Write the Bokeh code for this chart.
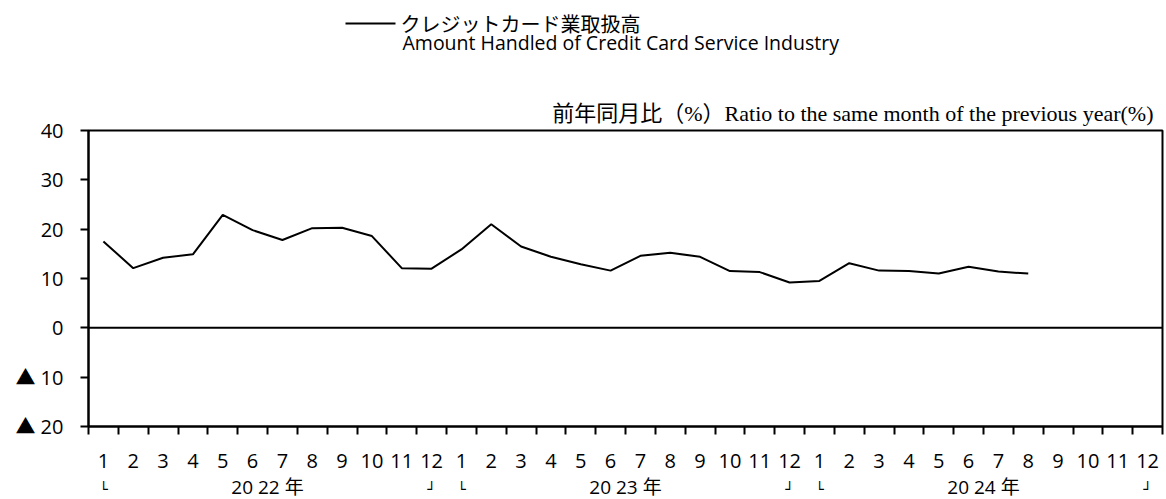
from bokeh.plotting import figure
from bokeh.models import FixedTicker, Span, Range1d, Title
from bokeh.layouts import column
from bokeh.core.properties import value
from bokeh.embed import file_html
from bokeh.resources import INLINE

month_labels = [str(m) for m in range(1, 13)] * 3
year_labels = ["20 22 年", "20 23 年", "20 24 年"]
values = [17.5, 12.1, 14.2, 14.9, 22.9, 19.8, 17.8, 20.2, 20.3, 18.6, 12.1, 12.0,
          15.9, 21.0, 16.5, 14.4, 12.9, 11.6, 14.6, 15.2, 14.4, 11.5, 11.3, 9.2,
          9.5, 13.1, 11.6, 11.5, 11.0, 12.4, 11.4, 11.0]
y_ticks = [-20, -10, 0, 10, 20, 30, 40]
y_tick_labels = ["▲ 20", "▲ 10", "0", "10", "20", "30", "40"]
series_ja = "クレジットカード業取扱高"
series_en = "Amount Handled of Credit Card Service Industry"
unit_caption = "前年同月比（%）Ratio to the same month of the previous year(%)"

NUM_FONT = "Open Sans"
TICK_FONT = "Open Sans, Noto Sans CJK JP"
JA_FONT = "Noto Sans CJK JP"

W = 1165
FL, FR = 88, 1162           # frame left/right in picture pixels
FT, FB = 130, 426           # frame top/bottom in picture pixels
HEAD_H = 60
MAIN_BOTTOM = 476
MAIN_H = MAIN_BOTTOM - HEAD_H
FOOT_H = 23


def blank(fig):
    fig.grid.visible = False
    fig.outline_line_color = None
    fig.background_fill_color = "white"
    fig.border_fill_color = "white"


# ---------- header (legend), x in picture pixels ----------
head = figure(width=W, height=HEAD_H, output_backend="svg", toolbar_location=None,
              x_range=Range1d(FL, FR), y_range=Range1d(HEAD_H, 0),
              x_axis_type=None, y_axis_type=None,
              min_border_left=FL, min_border_right=W - FR,
              min_border_top=0, min_border_bottom=0)
blank(head)
head.line([345, 395], [23, 23], line_color="black", line_width=2)
head.text(x=[400], y=[23], text=[series_ja], text_align="left", text_baseline="middle",
          text_font=value(JA_FONT), text_font_size="20px", text_color="black")
head.text(x=[402], y=[42], text=[series_en], text_align="left", text_baseline="middle",
          text_font=value(NUM_FONT), text_font_size="19.5px", text_color="black")

# ---------- main chart ----------
x_range = Range1d(0, 36)
p = figure(width=W, height=MAIN_H, output_backend="svg", toolbar_location=None,
           x_range=x_range, y_range=Range1d(-20, 40),
           min_border_left=FL, min_border_right=W - FR,
           min_border_top=FT - HEAD_H, min_border_bottom=MAIN_BOTTOM - FB)
p.grid.visible = False
p.outline_line_color = "black"
p.outline_line_width = 2
p.background_fill_color = "white"
p.border_fill_color = "white"

p.add_layout(Title(text=unit_caption, align="right", offset=9, standoff=9,
                   text_font="Liberation Serif, Noto Sans CJK JP", text_font_size="22px",
                   text_font_style="normal", text_color="black"), "above")

n = len(month_labels)
centers = [i + 0.5 for i in range(n)]
xs = [i + 0.5 for i in range(len(values))]

ya = p.yaxis[0]
ya.ticker = FixedTicker(ticks=y_ticks)
ya.major_label_overrides = {t: l for t, l in zip(y_ticks, y_tick_labels)}
ya.axis_line_width = 2
ya.major_tick_line_width = 2
ya.major_tick_out = 8
ya.major_tick_in = 0
ya.minor_tick_line_color = None
ya.major_label_standoff = 17
ya.major_label_text_font = TICK_FONT
ya.major_label_text_font_size = "20px"
ya.major_label_text_color = "black"

xa = p.xaxis[0]
xa.ticker = FixedTicker(ticks=centers, minor_ticks=list(range(n + 1)))
xa.major_label_overrides = {c: l for c, l in zip(centers, month_labels)}
xa.axis_line_width = 2
xa.major_tick_line_color = None
xa.minor_tick_line_width = 2
xa.minor_tick_out = 8
xa.minor_tick_in = 0
xa.major_tick_out = 0
xa.major_tick_in = 0
xa.major_label_standoff = 19
xa.major_label_text_font = NUM_FONT
xa.major_label_text_font_size = "20px"
xa.major_label_text_color = "black"

p.add_layout(Span(location=0, dimension="width", line_color="black", line_width=2))
p.line(xs, values, line_color="black", line_width=2)

# ---------- footer: year row with period brackets ----------
foot = figure(width=W, height=FOOT_H, output_backend="svg", toolbar_location=None,
              x_range=x_range, y_range=Range1d(FOOT_H, 0),
              x_axis_type=None, y_axis_type=None,
              min_border_left=FL, min_border_right=W - FR,
              min_border_top=0, min_border_bottom=0)
blank(foot)
year_x = [12 * k + 6 for k in range(len(year_labels))]
foot.text(x=year_x, y=[10] * len(year_x), text=year_labels,
          text_align="center", text_baseline="middle",
          text_font=value(TICK_FONT), text_font_size="19px", text_color="black")
left_x = [12 * k + 0.5 for k in range(len(year_labels))]
right_x = [12 * k + 11.5 for k in range(len(year_labels))]
foot.text(x=left_x, y=[12] * len(left_x), text=["└"] * len(left_x),
          text_align="center", text_baseline="middle",
          text_font=value("DejaVu Sans"), text_font_size="14px", text_color="black")
foot.text(x=right_x, y=[12] * len(right_x), text=["┘"] * len(right_x),
          text_align="center", text_baseline="middle",
          text_font=value("DejaVu Sans"), text_font_size="14px", text_color="black")

layout = column(head, p, foot, spacing=0)
open("out.html", "w").write(file_html(layout, INLINE))
